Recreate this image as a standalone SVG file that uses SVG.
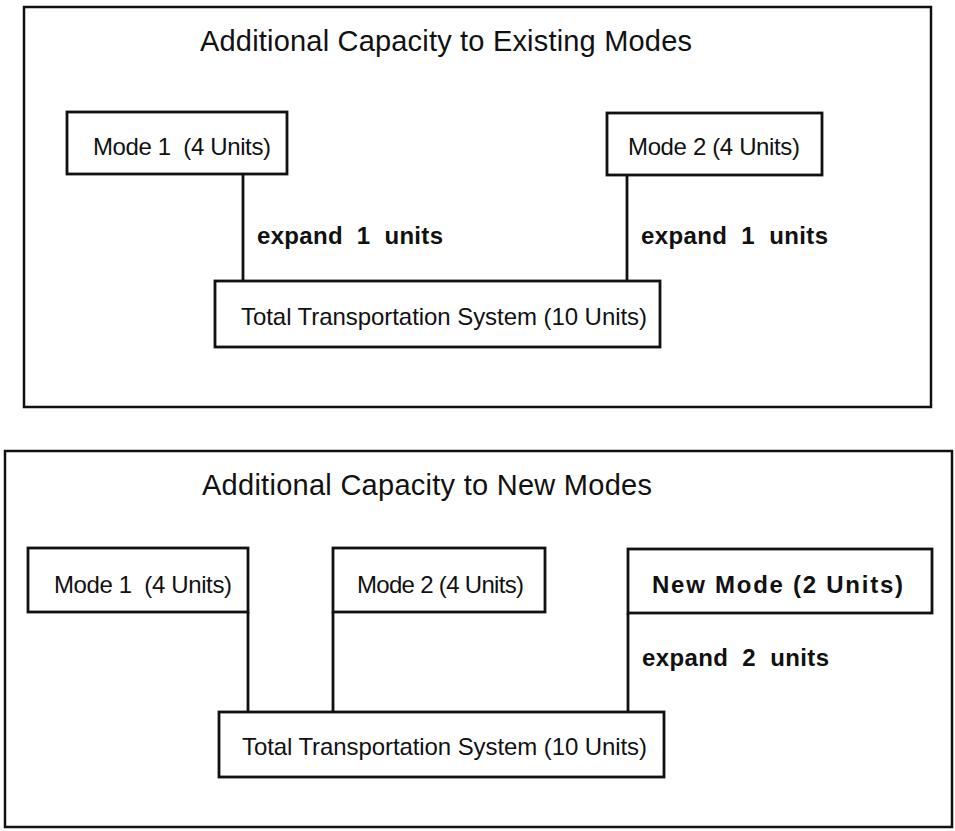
<svg xmlns="http://www.w3.org/2000/svg" width="955" height="831" viewBox="0 0 955 831">
<style>
.frame{fill:none;stroke:#111;stroke-width:2.5}
.box{fill:#fff;stroke:#111;stroke-width:2.8}
.conn{stroke:#111;stroke-width:2.8;fill:none}
text{font-family:"Liberation Sans",Arial,sans-serif;fill:#111}
.title{font-size:29px}
.lbl{font-size:24px}
.bold{font-size:24px;font-weight:bold}
</style>
<rect width="955" height="831" fill="#fff"/>
<g id="panel-existing">
<rect class="frame" x="24" y="7" width="907" height="400"/>
<text class="title" x="200" y="51" textLength="492" lengthAdjust="spacing">Additional Capacity to Existing Modes</text>
</g>
<g id="panel-new">
<rect class="frame" x="5" y="451" width="947" height="376"/>
<text class="title" x="202" y="495" textLength="450" lengthAdjust="spacing">Additional Capacity to New Modes</text>
</g>
<g id="connectors">
<line class="conn" x1="243" y1="174" x2="243" y2="281"/>
<line class="conn" x1="627" y1="175" x2="627" y2="281"/>
<line class="conn" x1="248" y1="612" x2="248" y2="712"/>
<line class="conn" x1="333" y1="612" x2="333" y2="712"/>
<line class="conn" x1="628" y1="613" x2="628" y2="712"/>
<text class="bold" xml:space="preserve" x="257" y="244" textLength="186" lengthAdjust="spacing">expand  1  units</text>
<text class="bold" xml:space="preserve" x="641" y="244" textLength="187" lengthAdjust="spacing">expand  1  units</text>
<text class="bold" xml:space="preserve" x="642" y="666" textLength="187" lengthAdjust="spacing">expand  2  units</text>
</g>
<g id="top-mode1">
<rect class="box" x="67" y="112" width="220" height="62"/>
<text class="lbl" xml:space="preserve" x="93" y="155" textLength="178" lengthAdjust="spacing">Mode 1  (4 Units)</text>
</g>
<g id="top-mode2">
<rect class="box" x="607" y="113" width="215" height="62"/>
<text class="lbl" x="628" y="155" textLength="172" lengthAdjust="spacing">Mode 2 (4 Units)</text>
</g>
<g id="top-total">
<rect class="box" x="215" y="281" width="445" height="66"/>
<text class="lbl" x="241" y="325" textLength="406" lengthAdjust="spacing">Total Transportation System (10 Units)</text>
</g>
<g id="bottom-mode1">
<rect class="box" x="28" y="548" width="220" height="64"/>
<text class="lbl" xml:space="preserve" x="54" y="593" textLength="178" lengthAdjust="spacing">Mode 1  (4 Units)</text>
</g>
<g id="bottom-mode2">
<rect class="box" x="333" y="548" width="212" height="64"/>
<text class="lbl" x="357" y="593" textLength="167" lengthAdjust="spacing">Mode 2 (4 Units)</text>
</g>
<g id="bottom-newmode">
<rect class="box" x="628" y="549" width="304" height="64"/>
<text class="bold" x="652" y="593" textLength="251" lengthAdjust="spacing">New Mode (2 Units)</text>
</g>
<g id="bottom-total">
<rect class="box" x="219" y="712" width="445" height="65"/>
<text class="lbl" x="242" y="755" textLength="405" lengthAdjust="spacing">Total Transportation System (10 Units)</text>
</g>
</svg>
